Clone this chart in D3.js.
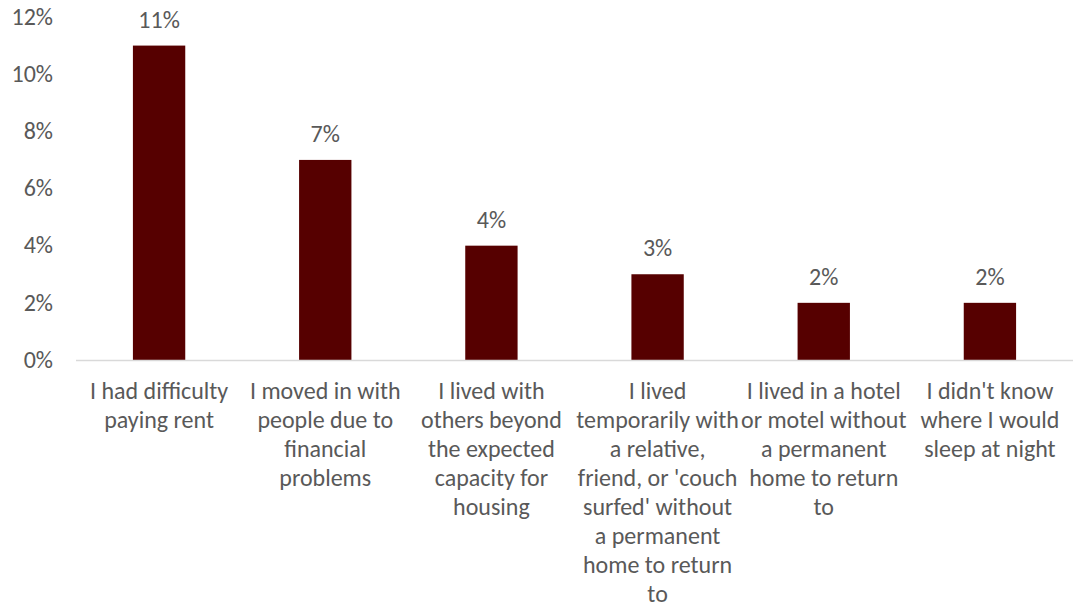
<!DOCTYPE html>
<html>
<head>
<meta charset="utf-8">
<script src="https://cdn.jsdelivr.net/npm/d3@7"></script>
<style>
  html, body { margin: 0; padding: 0; background: #fff; }
  svg text { font-family: Carlito, Calibri, Lato, "Liberation Sans", sans-serif; fill: #595959; }
</style>
</head>
<body>
<svg id="chart" width="1076" height="608"></svg>
<script>
// Housing hardship responses, share of respondents
const categories = [
  ["I had difficulty", "paying rent"],
  ["I moved in with", "people due to", "financial", "problems"],
  ["I lived with", "others beyond", "the expected", "capacity for", "housing"],
  ["I lived", "temporarily with", "a relative,", "friend, or 'couch", "surfed' without", "a permanent", "home to return", "to"],
  ["I lived in a hotel", "or motel without", "a permanent", "home to return", "to"],
  ["I didn't know", "where I would", "sleep at night"]
];
const values = [11, 7, 4, 3, 2, 2];
const yTicks = [0, 2, 4, 6, 8, 10, 12];

const FONT = "Carlito, Calibri, Lato, 'Liberation Sans', sans-serif";
const FS = 24;
const margin = { left: 76, right: 3, top: 17, bottom: 248 };
const W = 1076, H = 608;
const svg = d3.select("#chart");

const x = d3.scaleBand()
  .domain(d3.range(categories.length))
  .range([margin.left, W - margin.right])
  .paddingInner(0.685)
  .paddingOuter(0.3425);

const y = d3.scaleLinear().domain([0, 12]).range([H - margin.bottom, margin.top]);

// y axis labels (no axis line)
const yAxis = d3.axisLeft(y).tickValues(yTicks).tickFormat(d => d + "%").tickSize(0).tickPadding(0);
const gy = svg.append("g").attr("transform", `translate(${53},0)`).call(yAxis);
gy.select(".domain").remove();
gy.selectAll("text").attr("font-size", FS).attr("fill", "#595959").attr("dy", "0.3em")
  .style("font-family", FONT);

// bars
svg.append("g").selectAll("rect").data(values).join("rect")
  .attr("x", (d, i) => x(i))
  .attr("width", x.bandwidth())
  .attr("y", d => y(d))
  .attr("height", d => y(0) - y(d))
  .attr("fill", "#560000");

// baseline
svg.append("line")
  .attr("x1", margin.left).attr("x2", W - margin.right)
  .attr("y1", y(0) + 0.5).attr("y2", y(0) + 0.5)
  .attr("stroke", "#d9d9d9").attr("stroke-width", 1.5);

// value labels
svg.append("g").selectAll("text").data(values).join("text")
  .attr("x", (d, i) => x(i) + x.bandwidth() / 2)
  .attr("y", d => y(d) - 18)
  .attr("text-anchor", "middle")
  .attr("font-size", FS)
  .text(d => d + "%");

// category labels
const xg = svg.append("g");
categories.forEach((lines, i) => {
  const t = xg.append("text")
    .attr("x", x(i) + x.bandwidth() / 2)
    .attr("y", 398.5)
    .attr("text-anchor", "middle")
    .attr("font-size", FS);
  lines.forEach((ln, j) => {
    t.append("tspan")
      .attr("x", x(i) + x.bandwidth() / 2)
      .attr("dy", j === 0 ? 0 : 29.1)
      .text(ln);
  });
});
</script>
</body>
</html>
